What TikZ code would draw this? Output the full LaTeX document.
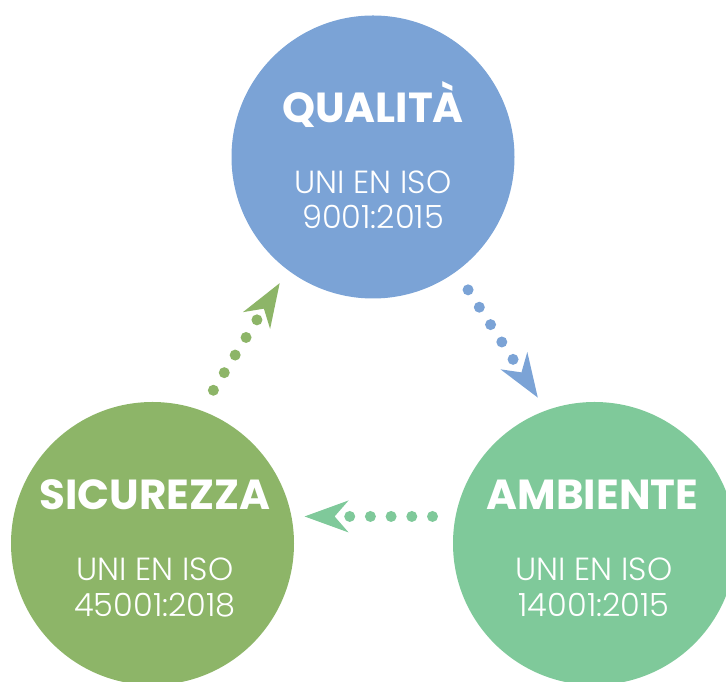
\documentclass[tikz,border=0pt]{standalone}
\usepackage{fontspec}
\setmainfont{Poppins}
\newfontfamily\lightfont{Poppins Light}
\usetikzlibrary{arrows.meta}

\definecolor{qualblue}{HTML}{7BA3D6}
\definecolor{sicgreen}{HTML}{8DB568}
\definecolor{ambgreen}{HTML}{7FC99A}

\begin{document}
\begin{tikzpicture}[x=1pt, y=1pt,
    disc/.style={circle, minimum size=283pt, inner sep=0pt},
    headtext/.style={white, anchor=base, font=\bfseries\fontsize{42}{42}\selectfont},
    subtext/.style={white, anchor=base, font=\lightfont\fontsize{32}{32}\selectfont},
    dotline/.style={line width=11pt, line cap=round, dash pattern=on 0pt off 20.7pt,
        -{Stealth[length=44pt, width=32pt, inset=14pt, line width=0pt]}}]
    \useasboundingbox (0,0) rectangle (726,682);

    % circles
    \node[disc, fill=qualblue] (qual) at (373,525) {};
    \node[disc, fill=sicgreen] (sic) at (152.5,138.5) {};
    \node[disc, fill=ambgreen] (amb) at (594.5,138.5) {};

    % texts
    \node[headtext] (qualT) at (373,559) {QUALITÀ};
        \node[subtext] (qualA) at (373,488) {UNI EN ISO};
        \node[subtext] (qualB) at (373,453) {9001:2015};

    \node[headtext] (sicT) at (155,172) {SICUREZZA};
        \node[subtext] (sicA) at (155,101) {UNI EN ISO};
        \node[subtext] (sicB) at (155,65) {45001:2018};

    \node[headtext] (ambT) at (592.5,172) {AMBIENTE};
        \node[subtext] (ambA) at (594,101) {UNI EN ISO};
        \node[subtext] (ambB) at (594,65) {14001:2015};

    % dotted arrows
    \draw [dotline, qualblue, shorten <=21.7pt, shorten >=15.2pt]
            (qual.-54) -- (amb.110.75);
    \draw [dotline, ambgreen, shorten <=22.9pt, shorten >=13pt]
            (amb.169.3) -- (sic.11.4);
    \draw [dotline, sicgreen, shorten <=23.6pt, shorten >=15.3pt]
            (sic.70.36) -- (qual.-127.75);
\end{tikzpicture}
\end{document}
